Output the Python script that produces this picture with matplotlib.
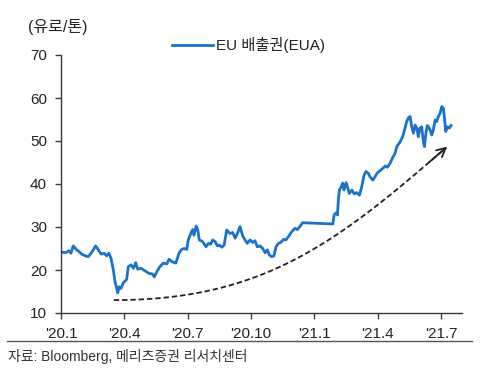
import numpy as np
import matplotlib
matplotlib.use("Agg")
import matplotlib.pyplot as plt
from matplotlib.lines import Line2D

plt.rcParams['font.family'] = ['Liberation Sans', 'Noto Sans CJK KR', 'DejaVu Sans']

# x position in months since Jan 2020 (0 = '20.1), value in EUR/ton
months = [0, 0.27, 0.38, 0.47, 0.58, 0.74, 0.85, 0.98, 1.14, 1.29, 1.42, 1.53, 1.64, 1.77, 1.9,
          2.05, 2.16, 2.27, 2.37, 2.48, 2.56, 2.64, 2.69, 2.75, 2.84, 2.95, 3.11, 3.19, 3.32, 3.43,
          3.54, 3.63, 3.79, 3.98, 4.17, 4.33, 4.42, 4.54, 4.69, 4.85, 5.01, 5.12, 5.27, 5.44, 5.59,
          5.72, 5.82, 5.96, 6.03, 6.15, 6.24, 6.3, 6.4, 6.48, 6.55, 6.71, 6.87, 6.98, 7.09, 7.19,
          7.3, 7.41, 7.5, 7.62, 7.73, 7.85, 7.93, 8.01, 8.14, 8.25, 8.36, 8.48, 8.61, 8.72, 8.83,
          8.96, 9.08, 9.19, 9.3, 9.43, 9.56, 9.67, 9.78, 9.87, 9.98, 10.09, 10.19, 10.3, 10.41, 10.54,
          10.66, 10.77, 10.93, 11.09, 11.2, 11.33, 11.45, 12.88, 12.94, 13.03, 13.1, 13.14, 13.19, 13.26,
          13.35, 13.41, 13.51, 13.57, 13.66, 13.78, 13.89, 14.01, 14.14, 14.25, 14.36, 14.45, 14.56, 14.64,
          14.77, 14.88, 14.99, 15.12, 15.24, 15.36, 15.46, 15.59, 15.72, 15.83, 15.91, 16.07, 16.19, 16.3,
          16.38, 16.46, 16.54, 16.62, 16.7, 16.78, 16.86, 16.93, 17.01, 17.09, 17.17, 17.22, 17.3, 17.36,
          17.45, 17.57, 17.64, 17.73, 17.8, 17.88, 17.96, 18.04, 18.12, 18.17, 18.23, 18.31, 18.4, 18.48]
eua = [24.1, 24.1, 24.5, 23.9, 25.6, 24.7, 24.3, 23.7, 23.3, 23.1, 23.9, 24.7, 25.6, 24.7, 23.7,
       23.9, 23.3, 23.9, 22.7, 20.0, 17.3, 15.7, 14.7, 16.1, 15.7, 17.0, 17.8, 20.8, 21.2, 20.4,
       21.7, 20.2, 20.4, 19.8, 19.2, 19.1, 18.4, 19.6, 20.8, 21.6, 21.4, 22.5, 21.9, 21.6, 23.9,
       24.8, 25.0, 24.8, 27.0, 28.5, 29.4, 28.1, 30.2, 29.4, 27.0, 26.6, 25.4, 26.2, 26.0, 27.0,
       26.6, 25.6, 25.8, 25.3, 25.8, 29.3, 28.9, 28.5, 28.7, 27.4, 28.5, 30.1, 27.9, 27.0, 26.2,
       27.0, 26.4, 26.8, 25.4, 25.6, 25.0, 24.0, 24.7, 23.5, 23.1, 23.3, 25.4, 26.2, 26.4, 27.1,
       27.0, 27.7, 28.9, 29.7, 29.4, 30.2, 31.0, 30.7, 32.8, 33.3, 32.8, 36.3, 38.6, 39.2,
       40.2, 38.6, 40.3, 39.4, 37.8, 38.6, 37.7, 38.0, 37.4, 39.4, 42.1, 42.9, 42.5, 41.7,
       40.9, 41.7, 42.6, 43.1, 43.6, 44.2, 43.9, 44.8, 46.2, 47.1, 48.7, 49.8, 51.0, 53.0,
       54.5, 55.4, 55.7, 53.3, 51.8, 53.7, 53.0, 51.0, 53.0, 53.3, 49.8, 48.7, 52.2, 53.6,
       53.0, 51.4, 52.6, 54.9, 54.5, 55.7, 56.4, 58.0, 57.6, 55.3, 52.2, 53.3, 53.0, 53.6]

tick_pos = [0, 3, 6, 9, 12, 15, 18]
tick_labels = ["'20.1", "'20.4", "'20.7", "'20.10", "'21.1", "'21.4", "'21.7"]
y_ticks = [10, 20, 30, 40, 50, 60, 70]

# trend arrow control points (cubic Bezier, month / value)
arrow_ctrl_x = [2.5, 9.5, 13.0, 18.3]
arrow_ctrl_y = [13.0, 13.0, 26.0, 48.7]

BLUE = '#1a72c9'
DARK = '#3a3a3a'

fig = plt.figure(figsize=(4.86, 3.68), dpi=100)
ax = fig.add_axes([61/486, 1-313/368, (462-61)/486, (313-55)/368])

ax.plot(months, eua, color=BLUE, lw=2.0, solid_joinstyle='round', label='EU 배출권(EUA)')

# dashed trend curve with arrowhead
t = np.linspace(0, 1, 200)
P = np.array([arrow_ctrl_x, arrow_ctrl_y])
bx = ((1-t)**3)*P[0, 0] + 3*((1-t)**2)*t*P[0, 1] + 3*(1-t)*t**2*P[0, 2] + t**3*P[0, 3]
by = ((1-t)**3)*P[1, 0] + 3*((1-t)**2)*t*P[1, 1] + 3*(1-t)*t**2*P[1, 2] + t**3*P[1, 3]
ax.plot(bx[:-3], by[:-3], color='#222222', lw=1.3, ls=(0, (3, 1.6)))
ax.annotate('', xy=(bx[-1], by[-1]), xytext=(bx[-12], by[-12]),
            arrowprops=dict(arrowstyle='->', color='#222222', lw=1.3, mutation_scale=16,
                            shrinkA=0, shrinkB=0))

ax.set_xlim(0, 19)
ax.set_ylim(10, 70)
ax.set_xticks(tick_pos)
ax.set_xticklabels(tick_labels)
ax.set_yticks(y_ticks)
for s in ['top', 'right']:
    ax.spines[s].set_visible(False)
for s in ['left', 'bottom']:
    ax.spines[s].set_color(DARK)
    ax.spines[s].set_linewidth(1.0)
ax.tick_params(axis='both', direction='out', length=4, width=1.0, color=DARK,
               labelsize=11, labelcolor='#222222')
ax.tick_params(axis='x', pad=6)
ax.tick_params(axis='y', pad=6)

leg = fig.legend(loc='center left', bbox_to_anchor=(172/486, 1-45/368), bbox_transform=fig.transFigure,
                 frameon=False, fontsize=11, handlelength=2.7, handletextpad=0.2,
                 borderpad=0, borderaxespad=0)
for txt in leg.get_texts():
    txt.set_color('#222222')

fig.text(28/486, 1-27/368, '(유로/톤)', fontsize=11.5, color='#222222', va='center', ha='left')

fig.add_artist(Line2D([7/486, 472/486], [1-341/368, 1-341/368], transform=fig.transFigure,
                      color='#555555', lw=1.0))
fig.text(8/486, 1-356/368, '자료: Bloomberg, 메리츠증권 리서치센터', fontsize=10, color='#333333',
         va='center', ha='left')

fig.savefig('out.png', dpi=100)
